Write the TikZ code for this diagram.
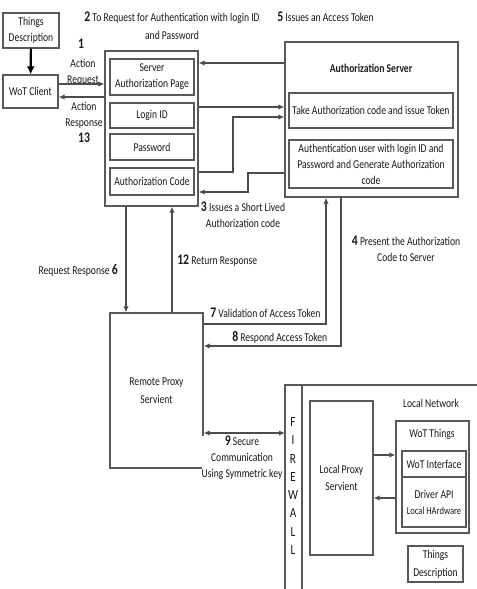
\documentclass[tikz,border=0pt]{standalone}
\usepackage{fontspec}
\setmainfont{Carlito}[FakeStretch=0.8]
\usepackage{tikz}
\usetikzlibrary{arrows.meta,positioning,calc}

\newcommand{\fs}{\fontsize{9}{12}\selectfont}
\newcommand{\stepno}[1]{{\fontsize{11}{12}\selectfont\bfseries #1}}

\tikzset{
  box/.style={draw=black!65, line width=0.9pt, align=center, inner sep=1pt},
  txt/.style={align=center, inner sep=0pt},
  arr/.style={-{Latex[length=4.5pt,width=4pt]}, draw=black!70, line width=0.9pt},
}

\begin{document}
\begin{tikzpicture}[x=0.75pt, y=-0.75pt, font=\fs, text=black!90]
\useasboundingbox (0,0) rectangle (477,589);

\node[box, minimum width=42pt, minimum height=26.25pt] (thingsA) at (31,30.5) {Things\\Description};
\node[box, minimum width=41.25pt, minimum height=24.75pt] (client) at (30.5,91.5) {WoT Client};

\node[box, minimum width=69.75pt, minimum height=116.25pt] (authpage) at (151.5,128.5) {};
\node[box, minimum width=63pt, minimum height=27pt] (srvpage) at (152,77) {Server\\Authorization Page};
\node[box, minimum width=63pt, minimum height=18.75pt] (login) at (152,115.5) {Login ID};
\node[box, minimum width=63pt, minimum height=19.5pt] (passwd) at (152,147) {Password};
\node[box, minimum width=63pt, minimum height=20.25pt] (authcode) at (152,181.5) {Authorization Code};

\node[box, minimum width=129.75pt, minimum height=116.25pt] (authsrv) at (371.5,119.5) {};
\node[txt, font=\fs\bfseries] (authtitle) at (371,68) {Authorization Server};
\node[box, minimum width=123pt, minimum height=26.25pt] (take) at (371,110.5) {Take Authorization code and issue Token};
\node[box, inner sep=0pt, minimum width=123pt, minimum height=36pt] (authuser) at (371,164) {Authentication user with login ID and\\Password and Generate Authorization\\code};

\node[box, minimum width=69.75pt, minimum height=116.25pt] (remote) at (156.5,390.5) {Remote Proxy\\[1.5pt]Servient};

\coordinate (fwout) at (285,385);
\coordinate (fwin) at (302,385);
\draw[draw=black!65, line width=0.9pt] (fwout |- 0,589) -- (fwout) -- (477,385);
\draw[draw=black!65, line width=0.9pt] (fwin) -- (fwin |- 0,589);
\foreach \l [count=\i] in {F,I,R,E,W,A,L,L}
  \node[txt, font=\fontsize{10.5}{12}\selectfont] (fw\i) at (293,{422+18.3*(\i-1)}) {\l};

\node[txt] (locnet) at (431,403) {Local Network};
\node[box, minimum width=47.25pt, minimum height=115.5pt] (locproxy) at (341.5,478) {Local Proxy\\[1pt]Servient};
\node[box, minimum width=54.75pt, minimum height=84pt] (wotthings) at (432.5,477) {};
\node[txt] (wottitle) at (432,434) {WoT Things};
\node[box, minimum width=48pt, minimum height=19.5pt] (wotif) at (434,464) {WoT Interface};
\node[box, minimum width=48pt, minimum height=37.5pt] (driver) at (434,502) {Driver API\\{\fontsize{8}{9}\selectfont Local HArdware}};
\node[box, minimum width=41.25pt, minimum height=27pt] (thingsB) at (435.5,564) {Things\\[1.5pt]Description};

\node[txt] (n1) at (81,44) {\stepno{1}};
\node[txt] (actreq) at (83,72) {Action\\Request};
\node[txt] (actresp) at (84,122) {Action\\Response\\\stepno{13}};
\node[txt] (lbl2) at (172,26) {\stepno{2} To Request for Authentication with login ID\\[1.5pt]and Password};
\node[txt, anchor=west] (lbl5) at (277,17) {\stepno{5} Issues an Access Token};
\node[txt] (lbl3) at (243,215) {\stepno{3} Issues a Short Lived\\Authorization code};
\node[txt] (lbl4) at (406,248.5) {\stepno{4} Present the Authorization\\Code to Server};
\node[txt, anchor=east] (lbl6) at (118,270) {Request Response \stepno{6}};
\node[txt, anchor=west] (lbl12) at (177,261) {\stepno{12} Return Response};
\node[txt, anchor=west] (lbl7) at (210,313) {\stepno{7} Validation of Access Token};
\node[txt, anchor=west] (lbl8) at (232,337) {\stepno{8} Respond Access Token};

\draw[-{Latex[length=6pt,width=6pt]}, line width=1.6pt] (thingsA) -- (client);
\draw[arr] ($(client.east)+(0,-7.5)$) -- ($(client.east -| authpage.west)+(0,-7.5)$);
\draw[arr] ($(client.east -| authpage.west)+(0,5.5)$) -- ($(client.east)+(0,5.5)$);

\draw[arr] (authsrv.west |- 0,63) -- (authpage.east |- 0,63);
\draw[arr] (authpage.east |- 0,107) -- (authsrv.west |- 0,107);
\draw[arr] (authpage.east |- 0,172) -- (233,172) |- (authsrv.west |- 0,117);
\draw[arr] (authsrv.west |- 0,173) -- (248,173) |- (authpage.east |- 0,192);

\draw[arr] (authpage.south -| 126,0) -- (remote.north -| 126,0);
\draw[arr] (remote.north -| 172,0) -- (authpage.south -| 172,0);
\draw[arr] (remote.east |- 0,324) -| (authsrv.south -| 326,0);
\draw[arr] (authsrv.south -| 341,0) |- (remote.east |- 0,346);

\node[txt, fill=white] (lbl9) at (242,458) {\stepno{9} Secure\\Communication\\Using Symmetric key};
\draw[arr, {Latex[length=4.5pt,width=4pt]}-{Latex[length=4.5pt,width=4pt]}] (remote.east |- 0,433) -- (fwout |- 0,433);

\draw[arr] (locproxy.east |- 0,455) -- (wotthings.west |- 0,455);
\draw[arr] (wotthings.west |- 0,498) -- (locproxy.east |- 0,498);
\end{tikzpicture}
\end{document}
